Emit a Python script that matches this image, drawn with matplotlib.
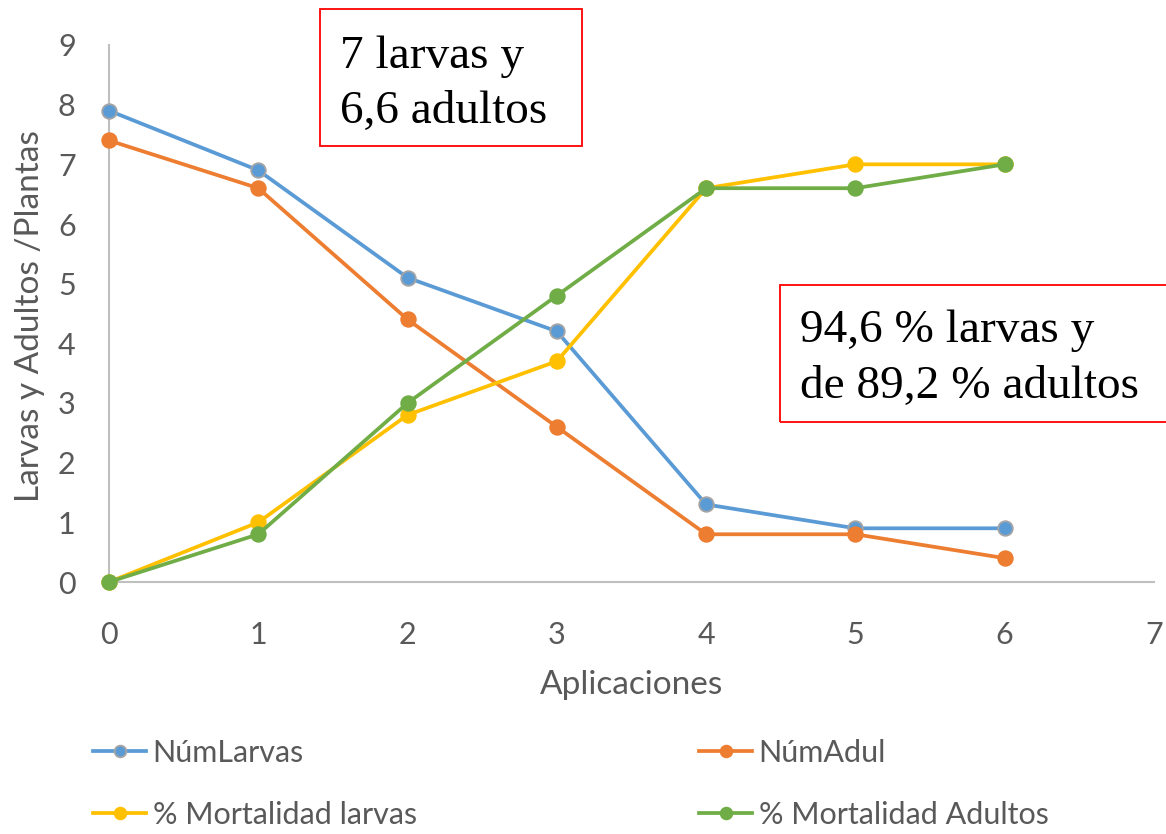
import matplotlib
matplotlib.use("Agg")
import matplotlib.pyplot as plt
from matplotlib.patches import Rectangle

# Data
aplicaciones = [0, 1, 2, 3, 4, 5, 6]
num_larvas = [7.9, 6.9, 5.1, 4.2, 1.3, 0.9, 0.9]
num_adul = [7.4, 6.6, 4.4, 2.6, 0.8, 0.8, 0.4]
mort_larvas = [0, 1.0, 2.8, 3.7, 6.6, 7.0, 7.0]
mort_adultos = [0, 0.8, 3.0, 4.8, 6.6, 6.6, 7.0]

series_names = ["NúmLarvas", "NúmAdul", "% Mortalidad larvas", "% Mortalidad Adultos"]
colors = ["#5B9BD5", "#ED7D31", "#FFC000", "#70AD47"]
edge_colors = ["#A5A5A5", "#ED7D31", "#FFC000", "#70AD47"]

x_ticks = list(range(0, 8))
y_ticks = list(range(0, 10))

note_top = "7 larvas y\n6,6 adultos"
note_right = "94,6 % larvas y\nde 89,2 % adultos"

plt.rcParams["font.family"] = ["Lato", "DejaVu Sans"]
W, H = 1166, 834
fig = plt.figure(figsize=(W / 100, H / 100), dpi=100)

def fx(px):
    return px / W

def fy(py):
    return 1 - py / H

ax = fig.add_axes([fx(109), fy(582), fx(1154) - fx(109), fy(45) - fy(582)])

grey_text = "#595959"
lines = []
for vals, name, c, ec in zip([num_larvas, num_adul, mort_larvas, mort_adultos],
                             series_names, colors, edge_colors):
    ln, = ax.plot(aplicaciones, vals, color=c, lw=2.7, marker="o", ms=10.5,
                  markerfacecolor=c, markeredgecolor=ec, markeredgewidth=1.3,
                  label=name, clip_on=False, zorder=3)
    lines.append(ln)

ax.set_xlim(0, 7)
ax.set_ylim(0, 9)
ax.set_xticks(x_ticks)
ax.set_yticks(y_ticks)
ax.tick_params(length=0, labelsize=22, labelcolor=grey_text)
ax.tick_params(axis="y", pad=24)
ax.tick_params(axis="x", pad=28)
for s in ["top", "right"]:
    ax.spines[s].set_visible(False)
for s in ["left", "bottom"]:
    ax.spines[s].set_color("#BFBFBF")
    ax.spines[s].set_linewidth(1.5)

ax.set_xlabel("Aplicaciones", fontsize=24, color=grey_text)
ax.set_ylabel("Larvas y Adultos /Plantas", fontsize=24, color=grey_text)
ax.xaxis.set_label_coords(fx(631.5), fy(685), transform=fig.transFigure)
ax.yaxis.set_label_coords(fx(30), fy(316), transform=fig.transFigure)
ax.xaxis.label.set_va("center")
ax.yaxis.label.set_va("center")

# Legend in two columns below the plot
legend_kw = dict(loc="upper left", frameon=False, fontsize=22, labelcolor=grey_text,
                 handlelength=1.75, handletextpad=0.2, labelspacing=1.1,
                 markerscale=0.8, borderpad=0, borderaxespad=0)
fig.legend([lines[0], lines[2]], [series_names[0], series_names[2]],
           bbox_to_anchor=(fx(93), fy(739)), **legend_kw)
fig.legend([lines[1], lines[3]], [series_names[1], series_names[3]],
           bbox_to_anchor=(fx(699), fy(739)), **legend_kw)

# Annotation boxes
fig.patches.append(Rectangle((fx(320), fy(146)), fx(582) - fx(320), fy(9) - fy(146),
                             transform=fig.transFigure, fill=False,
                             edgecolor="#FF0000", linewidth=1.3))
fig.text(fx(340), fy(123), note_top, family="Liberation Serif", fontsize=34,
         color="black", va="baseline", ha="left", linespacing=1.4)

fig.patches.append(Rectangle((fx(780), fy(422)), fx(1175) - fx(780), fy(285) - fy(422),
                             transform=fig.transFigure, fill=False,
                             edgecolor="#FF0000", linewidth=1.3, clip_on=False))
fig.text(fx(800), fy(398), note_right, family="Liberation Serif", fontsize=34,
         color="black", va="baseline", ha="left", linespacing=1.4)

fig.savefig("out.png", dpi=100, facecolor="white")
